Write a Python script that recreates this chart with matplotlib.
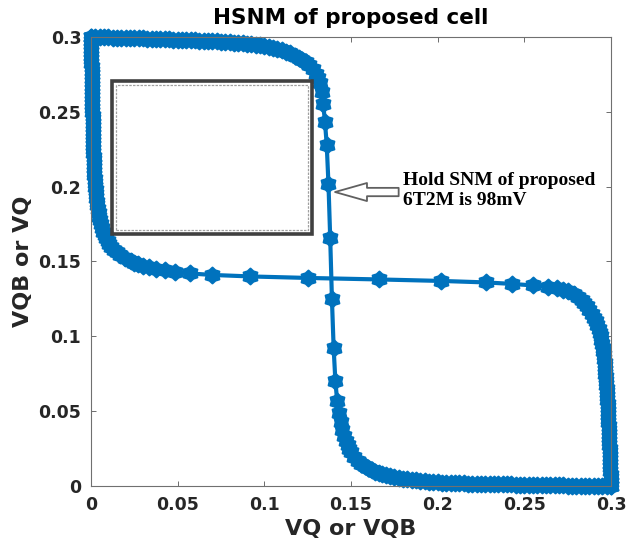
import matplotlib.pyplot as plt
from matplotlib.patches import Rectangle
from matplotlib.path import Path
from matplotlib.markers import MarkerStyle

# inverter VTC: input voltage and output voltage
vin = [0.0000, 0.0025, 0.0050, 0.0075, 0.0100, 0.0125, 0.0150, 0.0175, 0.0200, 0.0225,
       0.0250, 0.0275, 0.0300, 0.0325, 0.0350, 0.0375, 0.0400, 0.0425, 0.0450, 0.0475,
       0.0500, 0.0525, 0.0550, 0.0575, 0.0600, 0.0625, 0.0650, 0.0675, 0.0700, 0.0725,
       0.0750, 0.0775, 0.0800, 0.0825, 0.0850, 0.0875, 0.0900, 0.0925, 0.0950, 0.0975,
       0.1000, 0.1025, 0.1050, 0.1075, 0.1100, 0.1125, 0.1150, 0.1175, 0.1200, 0.1220,
       0.1240, 0.1260, 0.1280, 0.1300, 0.1310, 0.1320, 0.1330, 0.1340, 0.1350, 0.1360,
       0.1370, 0.1380, 0.1390, 0.1400, 0.1410, 0.1420, 0.1430, 0.1440, 0.1450, 0.1460,
       0.1470, 0.1480, 0.1490, 0.1500, 0.1520, 0.1540, 0.1560, 0.1580, 0.1600, 0.1620,
       0.1640, 0.1660, 0.1680, 0.1700, 0.1725, 0.1750, 0.1775, 0.1800, 0.1825, 0.1850,
       0.1875, 0.1900, 0.1925, 0.1950, 0.1975, 0.2000, 0.2025, 0.2050, 0.2075, 0.2100,
       0.2125, 0.2150, 0.2175, 0.2200, 0.2225, 0.2250, 0.2275, 0.2300, 0.2325, 0.2350,
       0.2375, 0.2400, 0.2425, 0.2450, 0.2475, 0.2500, 0.2525, 0.2550, 0.2575, 0.2600,
       0.2625, 0.2650, 0.2675, 0.2700, 0.2725, 0.2750, 0.2775, 0.2800, 0.2825, 0.2850,
       0.2875, 0.2900, 0.2925, 0.2950, 0.2975, 0.3000]

vout = [0.3000, 0.2999, 0.2999, 0.2998, 0.2997, 0.2996, 0.2996, 0.2995, 0.2994, 0.2993,
        0.2992, 0.2991, 0.2990, 0.2989, 0.2988, 0.2987, 0.2986, 0.2985, 0.2984, 0.2983,
        0.2982, 0.2981, 0.2980, 0.2978, 0.2977, 0.2976, 0.2975, 0.2973, 0.2972, 0.2970,
        0.2968, 0.2967, 0.2965, 0.2963, 0.2960, 0.2958, 0.2955, 0.2952, 0.2948, 0.2944,
        0.2940, 0.2934, 0.2928, 0.2921, 0.2912, 0.2902, 0.2890, 0.2876, 0.2860, 0.2846,
        0.2830, 0.2810, 0.2785, 0.2750, 0.2725, 0.2690, 0.2635, 0.2550, 0.2430, 0.2280,
        0.2020, 0.1660, 0.1250, 0.0920, 0.0700, 0.0570, 0.0485, 0.0427, 0.0375, 0.0335,
        0.0300, 0.0272, 0.0248, 0.0228, 0.0195, 0.0170, 0.0150, 0.0133, 0.0118, 0.0106,
        0.0096, 0.0087, 0.0079, 0.0072, 0.0065, 0.0058, 0.0053, 0.0048, 0.0044, 0.0040,
        0.0037, 0.0034, 0.0031, 0.0029, 0.0027, 0.0025, 0.0023, 0.0022, 0.0020, 0.0019,
        0.0018, 0.0017, 0.0016, 0.0015, 0.0014, 0.0014, 0.0013, 0.0012, 0.0012, 0.0011,
        0.0011, 0.0010, 0.0010, 0.0009, 0.0009, 0.0008, 0.0008, 0.0007, 0.0007, 0.0006,
        0.0006, 0.0005, 0.0005, 0.0004, 0.0004, 0.0003, 0.0003, 0.0003, 0.0002, 0.0002,
        0.0001, 0.0001, 0.0001, 0.0000, 0.0000, 0.0000]

ticks = [0, 0.05, 0.1, 0.15, 0.2, 0.25, 0.3]
tick_labels = ['0', '0.05', '0.1', '0.15', '0.2', '0.25', '0.3']

blue = '#0072BD'
# fat six-pointed star, like matlab's hexagram drawn densely
star = MarkerStyle(Path.unit_regular_star(6, innerCircle=0.75), joinstyle='round')

fig = plt.figure(figsize=(6.28, 5.51), dpi=100)
ax = fig.add_axes([0.1449, 0.1180, 0.8280, 0.8149])

style = dict(color=blue, lw=3.0, marker=star, ms=11.5, mew=1.4, clip_on=False, zorder=2)
ax.plot(vout, vin, **style)
ax.plot(vin, vout, **style)

ax.set_xlim(0, 0.3)
ax.set_ylim(0, 0.3)
ax.set_xticks(ticks)
ax.set_xticklabels(tick_labels)
ax.set_yticks(ticks)
ax.set_yticklabels(tick_labels)
ax.tick_params(direction='in', length=3.5, width=0.6, color='#555555',
               top=True, right=True, labelsize=12.5, labelcolor='#262626', pad=7)
for lab in ax.get_xticklabels() + ax.get_yticklabels():
    lab.set_fontweight('bold')
for sp in ax.spines.values():
    sp.set_color('#707070')
    sp.set_linewidth(0.8)

ax.set_title('HSNM of proposed cell', fontsize=15.5, fontweight='bold', color='black', pad=9)
ax.set_xlabel('VQ or VQB', fontsize=16, fontweight='bold', color='#262626', labelpad=4)
ax.set_ylabel('VQB or VQ', fontsize=16, fontweight='bold', color='#262626', labelpad=4)

# the square box of the noise margin
ax.add_patch(Rectangle((0.0121, 0.1683), 0.1154, 0.1022, fill=False,
                       ec='#404040', lw=2.6, zorder=3))
ax.add_patch(Rectangle((0.0145, 0.1708), 0.1106, 0.0972, fill=False,
                       ec='#a0a0a0', lw=0.9, ls=(0, (2, 1)), zorder=3))

ax.annotate('', xy=(0.1408, 0.1964), xytext=(0.1775, 0.1964),
            arrowprops=dict(arrowstyle='simple,head_length=2.3,head_width=1.3,tail_width=0.6',
                            fc='white', ec='#606060', lw=1.3, shrinkA=0, shrinkB=0))
ax.text(0.180, 0.1975, 'Hold SNM of proposed\n6T2M is 98mV', ha='left', va='center',
        fontsize=14, fontweight='bold', family='Liberation Serif', linespacing=1.2)

fig.savefig('out.png', dpi=100)
